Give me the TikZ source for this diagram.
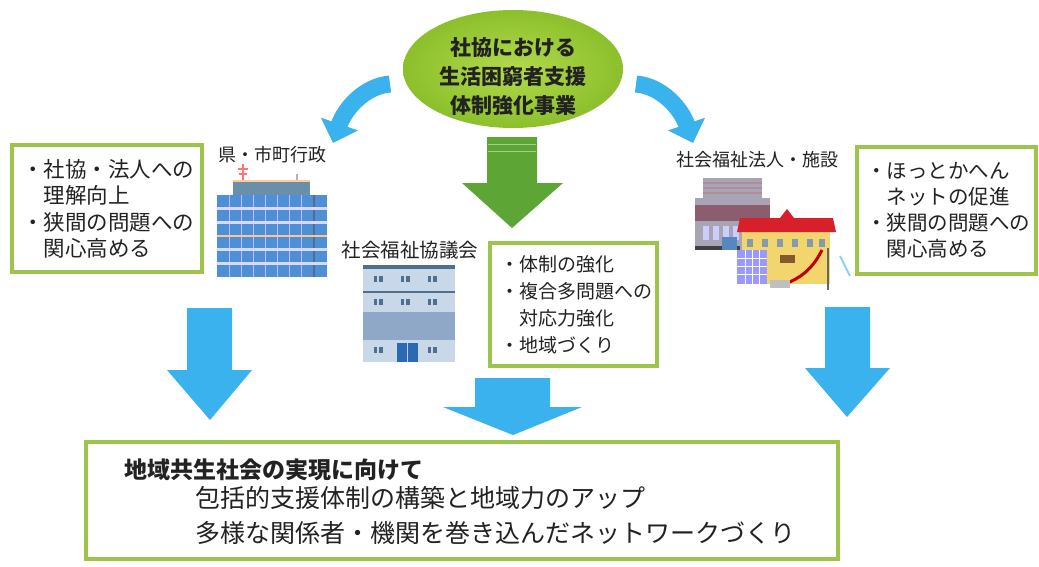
\documentclass[tikz,border=0pt]{standalone}
\usepackage{fontspec}
\newfontfamily\jp{Noto Sans CJK JP}
\usetikzlibrary{arrows.meta,shapes.geometric}

\definecolor{boxgreen}{HTML}{9DC54B}
\definecolor{arrowblue}{HTML}{3AB2EE}
\definecolor{arrowgreen}{HTML}{5DA636}
\definecolor{ellinner}{HTML}{B2DA4C}
\definecolor{ellouter}{HTML}{8CBF2C}
\definecolor{bldblue}{HTML}{4E8FD6}
\definecolor{bldslab}{HTML}{6A8FA8}
\definecolor{bldlight}{HTML}{C9D8E8}
\definecolor{bldmid}{HTML}{8FA8C8}
\definecolor{bldline}{HTML}{4F6F8F}
\definecolor{doorblue}{HTML}{2A6AB0}
\definecolor{roofred}{HTML}{D8202A}
\definecolor{schoolyellow}{HTML}{F3D56E}
\definecolor{greybld}{HTML}{A8A4B4}
\definecolor{maroon}{HTML}{8A5E6E}
\definecolor{textgrey}{HTML}{222222}

\tikzset{
  panel/.style={draw=boxgreen, line width=4pt, fill=white},
  bodytext/.style={font=\jp\fontsize{21.5}{26.5}\selectfont, align=left, inner sep=0pt, anchor=west, text=textgrey},
  orglabel/.style={font=\jp\fontsize{18}{22}\selectfont, inner sep=0pt, text=textgrey},
  blockarrow/.style={fill=arrowblue},
  curvearrow/.style={draw=arrowblue, line width=17pt, -{Triangle[width=38pt,length=20pt]}},
}

\begin{document}
\begin{tikzpicture}[x=1pt,y=-1pt]
\useasboundingbox (0,0) rectangle (1039,566);
\fill[white] (0,0) rectangle (1039,566);

% central project ellipse
\shade[inner color=ellinner, outer color=ellouter] (513,69) ellipse (110 and 59);
\node[font=\jp\bfseries\fontsize{21}{29}\selectfont, align=center, inner sep=0pt, text=textgrey] (project) at (513,77)
  {社協における\\生活困窮者支援\\体制強化事業};

% curved arrows leaving the ellipse
\coordinate (lstart) at (390,84);
\coordinate (ltip) at (333,143);
\coordinate (rstart) at (636,84);
\coordinate (rtip) at (693,143);
\draw[curvearrow] (lstart) .. controls (365,86) and (345,108) .. (ltip);
\draw[curvearrow] (rstart) .. controls (661,86) and (681,108) .. (rtip);

% green block arrow
\fill[arrowgreen] (487,137) -- (537,137) -- (537,183) -- (563,183) -- (512,228) -- (462,183) -- (487,183) -- cycle;
\draw[arrowgreen!55!white, line width=0.8pt] (488,144) -- (536,144);
\draw[arrowgreen!55!white, line width=0.8pt] (488,151) -- (536,151);

% left panel
\draw[panel] (12,145) rectangle (202,272);
\node[bodytext] (lefttext) at (22,209) {・社協・法人への\\　理解向上\\・狭間の問題への\\　関心高める};

% prefecture / municipal office
\node[orglabel] (govlabel) at (272,155) {県・市町行政};
\draw[red!55!white, line width=1.5pt] (243,164) -- (243,182);
\draw[red!55!white, line width=1.2pt] (238,169) -- (248,169);
\draw[red!55!white, line width=1.2pt] (239,174) -- (247,174);
\draw[gray!60, line width=1.5pt] (297,174) -- (297,182);
\fill[bldslab] (233,181) rectangle (310,195);
\draw[orange!40!white, line width=1.5pt] (233,181) -- (310,181);
\fill[bldblue] (217,195) rectangle (327,277);
\foreach \xx in {229,241,253,265,277,289,301} {
  \draw[blue!25!white, line width=0.8pt] (\xx,195) -- (\xx,277);
}
\draw[bldline, line width=1.5pt] (314,195) -- (314,277);
\foreach \yy in {208.7,222.3,249.7,263.3} {
  \draw[white!85!blue, line width=2.5pt] (217,\yy) -- (327,\yy);
}
\draw[orange!45!white, line width=2.5pt] (217,236) -- (327,236);

% social welfare council building
\node[orglabel, font=\jp\fontsize{19.5}{22}\selectfont] (councillabel) at (410,250) {社会福祉協議会};
\fill[bldlight] (363,265) rectangle (455,362);
\fill[bldline] (363,265) rectangle (455,268.5);
\fill[bldline] (363,290.5) rectangle (455,293);
\fill[bldmid] (363,312) rectangle (455,340);
\foreach \xx in {378,405,432} {
  \fill[bldline] (\xx-4.5,276) rectangle (\xx-1,282);
  \fill[bldline] (\xx+1,276) rectangle (\xx+4.5,282);
  \fill[bldline] (\xx-4.5,299) rectangle (\xx-1,305);
  \fill[bldline] (\xx+1,299) rectangle (\xx+4.5,305);
}
\foreach \xx in {378,432} {
  \fill[bldline] (\xx-4.5,347) rectangle (\xx-1,353);
  \fill[bldline] (\xx+1,347) rectangle (\xx+4.5,353);
}
\fill[doorblue] (397,343) rectangle (418,362);
\draw[white!70!doorblue, line width=0.8pt] (407.5,343) -- (407.5,362);

% centre panel
\draw[panel] (490,243) rectangle (657,366);
\node[bodytext, font=\jp\fontsize{19}{27}\selectfont] (centretext) at (500,305) {・体制の強化\\・複合多問題への\\　対応力強化\\・地域づくり};

% social welfare corporations and facilities
\node[orglabel] (corplabel) at (757,160) {社会福祉法人・施設};
\fill[greybld] (703,178) rectangle (762,198);
\foreach \yy in {183,188,193} {
  \draw[maroon!70, line width=1.2pt] (703,\yy) -- (762,\yy);
}
\fill[greybld] (695,198) rectangle (770,250);
\fill[maroon] (695,205) rectangle (770,221);
\foreach \xx in {703,713,723,733,743} {
  \fill[white!80!blue] (\xx,226) rectangle (\xx+6,240);
}
\fill[black!75] (695,246) rectangle (740,250);
\fill[doorblue!80] (722,237) rectangle (737,250);
\fill[schoolyellow] (742,230) rectangle (830,284);
\fill[roofred] (737,232) -- (740,218) -- (780,218) -- (787,209) -- (794,218) -- (833,218) -- (836,232) -- cycle;
\foreach \xx in {750,765,780,795,810,822} {
  \fill[bldline!70] (\xx-3,239) rectangle (\xx+3,247);
}
\fill[brown!70!black] (780,255) rectangle (795,263);
\fill[white!60!blue] (737,250) rectangle (767,284);
\foreach \xx in {745,752,759} { \draw[white, line width=0.8pt] (\xx,250) -- (\xx,284); }
\foreach \yy in {258,266,274} { \draw[white, line width=0.8pt] (737,\yy) -- (767,\yy); }
\draw[red!75!black, line width=3pt] (822,250) .. controls (812,270) and (800,278) .. (785,284);
\draw[black!60, line width=1.2pt] (828,248) -- (828,290);
\draw[arrowblue!60, line width=2pt] (840,256) -- (850,276);
\fill[gray!50] (770,280) rectangle (790,288);

% right panel
\draw[panel] (857,147) rectangle (1036,274);
\node[bodytext, font=\jp\fontsize{20.5}{26}\selectfont] (righttext) at (866,210) {・ほっとかへん\\　ネットの促進\\・狭間の問題への\\　関心高める};

% blue block arrows towards the goal
\fill[blockarrow] (187,308) -- (232,308) -- (232,370) -- (252,370) -- (210,420) -- (167,370) -- (187,370) -- cycle;
\fill[blockarrow] (475,378) -- (550,378) -- (550,407) -- (582,407) -- (513,435) -- (443,407) -- (475,407) -- cycle;
\fill[blockarrow] (825,307) -- (870,307) -- (870,368) -- (890,368) -- (847,417) -- (805,368) -- (825,368) -- cycle;

% goal panel
\draw[panel] (86,442) rectangle (838,559);
\node[font=\jp\bfseries\fontsize{23}{26}\selectfont, anchor=west, inner sep=0pt, text=textgrey] (goaltitle) at (124,470) {地域共生社会の実現に向けて};
\node[font=\jp\fontsize{25}{35}\selectfont, anchor=north west, align=left, inner sep=0pt, text=textgrey] (goaltext) at (195,486)
  {包括的支援体制の構築と地域力のアップ\\多様な関係者・機関を巻き込んだネットワークづくり};
\end{tikzpicture}
\end{document}
